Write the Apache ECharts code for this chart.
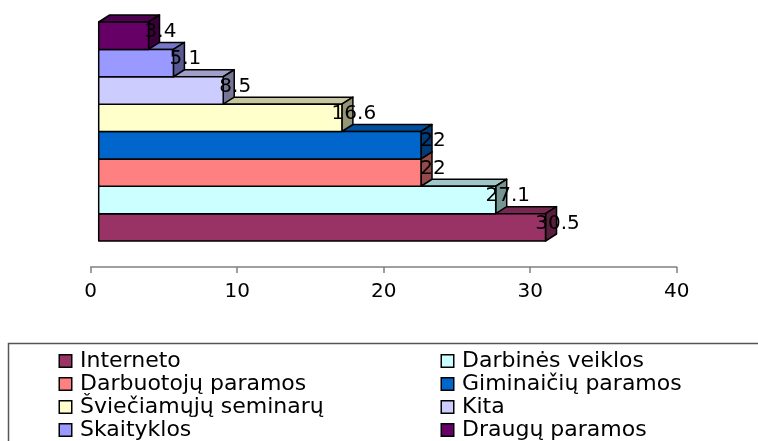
<!DOCTYPE html>
<html>
<head>
<meta charset="utf-8">
<script src="https://cdn.jsdelivr.net/npm/echarts@6/dist/echarts.min.js"></script>
<style>
  html, body { margin: 0; padding: 0; background: #fff; }
  #chart { width: 758px; height: 441px; }
</style>
</head>
<body>
<div id="chart"></div>
<script>
// kategorijos (nuo apačios į viršų)
var categories = ['Interneto', 'Darbinės veiklos', 'Darbuotojų paramos', 'Giminaičių paramos',
    'Šviečiamųjų seminarų', 'Kita', 'Skaityklos', 'Draugų paramos'];
var values = [30.5, 27.1, 22, 22, 16.6, 8.5, 5.1, 3.4];
var colors = ['#993366', '#CCFFFF', '#FF8080', '#0066CC', '#FFFFCC', '#CCCCFF', '#9999FF', '#660066'];
var xTicks = [0, 10, 20, 30, 40];

// legendos stulpeliai
var legendLeft = ['Interneto', 'Darbuotojų paramos', 'Šviečiamųjų seminarų', 'Skaityklos'];
var legendRight = ['Darbinės veiklos', 'Giminaičių paramos', 'Kita', 'Draugų paramos'];

var FONT = 'DejaVu Sans';
var DX = 11, DY = 7, SHIFT = 8;

function shade(hex, k) {
    var n = parseInt(hex.slice(1), 16);
    var r = Math.round(((n >> 16) & 255) * k);
    var g = Math.round(((n >> 8) & 255) * k);
    var b = Math.round((n & 255) * k);
    return 'rgb(' + r + ',' + g + ',' + b + ')';
}

function renderBar(params, api) {
    var v = api.value(0);
    var c = api.value(1);
    var p0 = api.coord([0, c]);
    var p1 = api.coord([v, c]);
    var h = api.size([0, 1])[1];
    var x0 = p0[0] + SHIFT, x1 = p1[0] + SHIFT;
    var y0 = p0[1] - h / 2, y1 = p0[1] + h / 2;
    var color = colors[params.seriesIndex];
    var line = { stroke: '#000', lineWidth: 1.5, lineJoin: 'round' };
    return {
        type: 'group',
        children: [
            {
                type: 'polygon',
                shape: { points: [[x0, y0], [x0 + DX, y0 - DY], [x1 + DX, y0 - DY], [x1, y0]] },
                style: Object.assign({ fill: shade(color, 0.78) }, line)
            },
            {
                type: 'polygon',
                shape: { points: [[x1, y0], [x1 + DX, y0 - DY], [x1 + DX, y1 - DY], [x1, y1]] },
                style: Object.assign({ fill: shade(color, 0.58) }, line)
            },
            {
                type: 'rect',
                shape: { x: x0, y: y0, width: x1 - x0, height: h },
                style: Object.assign({ fill: color }, line)
            },
            {
                type: 'text',
                z2: 100,
                style: {
                    x: x1 + 12, y: (y0 + y1) / 2 - 4,
                    text: String(v),
                    align: 'center', verticalAlign: 'middle',
                    fill: '#000', font: '20px "' + FONT + '"'
                }
            }
        ]
    };
}

var series = categories.map(function (name, i) {
    return {
        type: 'custom',
        name: name,
        renderItem: renderBar,
        itemStyle: { color: colors[i] },
        encode: { x: 0, y: 1 },
        data: [[values[i], i]]
    };
});

// legendos kvadratėliai su juodu rėmeliu per rich tekstą
var legendRich = { t: { fontFamily: FONT, fontSize: 22, color: '#000', lineHeight: 22, padding: [0, 0, 0, 9] } };
colors.forEach(function (c, i) {
    legendRich['b' + i] = {
        backgroundColor: c, borderColor: '#000', borderWidth: 1.5,
        width: 11, height: 11, lineHeight: 22
    };
});

function legendBlock(names, left) {
    return {
        orient: 'vertical',
        left: left,
        top: 350,
        padding: 0,
        itemGap: 1,
        itemWidth: 0,
        itemHeight: 13,
        icon: 'none',
        selectedMode: false,
        data: names,
        formatter: function (name) {
            return '{b' + categories.indexOf(name) + '|}{t|' + name + '}';
        },
        textStyle: { rich: legendRich, padding: 0 }
    };
}

var chart = echarts.init(document.getElementById('chart'));
var option = {
    backgroundColor: '#fff',
    animation: false,
    grid: { left: 90.7, right: 81.3, top: 22, bottom: 200 },
    xAxis: {
        type: 'value',
        min: xTicks[0],
        max: xTicks[xTicks.length - 1],
        interval: 10,
        offset: 26,
        axisLine: { show: true, lineStyle: { color: '#808080', width: 1.5 } },
        axisTick: { show: true, length: 6, lineStyle: { color: '#808080', width: 1.5 } },
        splitLine: { show: false },
        axisLabel: { fontFamily: FONT, fontSize: 20, color: '#000', margin: 15 }
    },
    yAxis: {
        type: 'category',
        data: categories,
        axisLine: { show: false },
        axisTick: { show: false },
        axisLabel: { show: false },
        splitLine: { show: false }
    },
    legend: [legendBlock(legendLeft, 55), legendBlock(legendRight, 437)],
    graphic: [{
        type: 'rect',
        shape: { x: 8.5, y: 343.5, width: 800, height: 200 },
        style: { fill: 'none', stroke: '#555', lineWidth: 1.5 },
        z: -1
    }],
    series: series
};
chart.setOption(option);
</script>
</body>
</html>
